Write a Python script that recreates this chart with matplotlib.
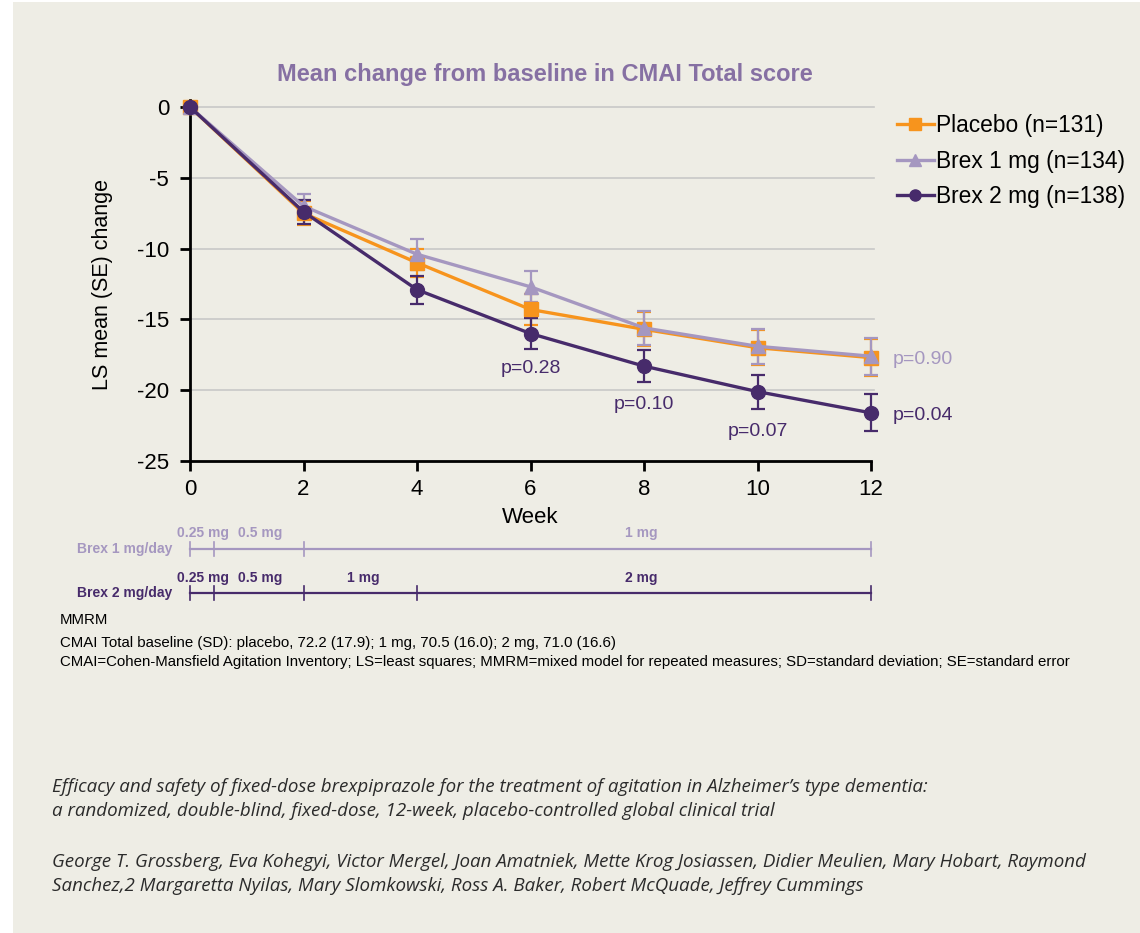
import matplotlib
matplotlib.use("Agg")
import matplotlib.pyplot as plt
from matplotlib.patches import Rectangle
from matplotlib.lines import Line2D

plt.rcParams['font.family'] = ['Liberation Sans', 'DejaVu Sans']

# ---------------- data ----------------
weeks = [0, 2, 4, 6, 8, 10, 12]
placebo = [0, -7.5, -11.0, -14.3, -15.7, -17.0, -17.7]
placebo_se = [0, 0.85, 1.0, 1.1, 1.2, 1.25, 1.3]
brex1 = [0, -7.0, -10.4, -12.7, -15.6, -16.9, -17.6]
brex1_se = [0, 0.85, 1.1, 1.1, 1.2, 1.25, 1.3]
brex2 = [0, -7.4, -12.9, -16.0, -18.3, -20.1, -21.6]
brex2_se = [0, 0.85, 1.0, 1.1, 1.15, 1.2, 1.3]

labels = ["Placebo (n=131)", "Brex 1 mg (n=134)", "Brex 2 mg (n=138)"]
pvals_weeks = [6, 8, 10]
pvals_text = ["p=0.28", "p=0.10", "p=0.07"]
pvals_y = [-18.5, -21.0, -22.9]
end_p_brex1 = "p=0.90"
end_p_brex2 = "p=0.04"

yticks = [0, -5, -10, -15, -20, -25]
xticks = [0, 2, 4, 6, 8, 10, 12]

# dose titration schedule (weeks)
brex1_breaks = [0, 0.43, 2, 12]
brex1_doses = ["0.25 mg", "0.5 mg", "1 mg"]
brex1_label_x = [0.23, 1.23, 7.95]
brex2_breaks = [0, 0.43, 2, 4, 12]
brex2_doses = ["0.25 mg", "0.5 mg", "1 mg", "2 mg"]
brex2_label_x = [0.23, 1.23, 3.05, 7.95]

# ---------------- style ----------------
BG = "#EEEDE5"
ORANGE = "#F7941D"
LPURP = "#A597C0"
DPURP = "#472B6B"
TITLE = "#8670A3"
GRID = "#C8C8C8"

W, H = 1140, 933
fig = plt.figure(figsize=(W / 100, H / 100), dpi=100, facecolor="white")
fig.patches.append(Rectangle((13 / W, 0), 1 - 13 / W, 1 - 2 / H, transform=fig.transFigure,
                             facecolor=BG, edgecolor="none", zorder=-10))

def fx(px):
    return px / W

def fy(py):
    return 1 - py / H

ax = fig.add_axes([fx(190), fy(461), fx(871) - fx(190), fy(107) - fy(461)])
ax.set_facecolor(BG)
ax.patch.set_alpha(0)

ax.set_xlim(0, 12)
ax.set_ylim(-25, 0)
for y in yticks[:-1]:
    ax.axhline(y, color=GRID, lw=1.2, zorder=0, xmax=1.005, clip_on=False)

series = [
    (placebo, placebo_se, ORANGE, "s", 9.5),
    (brex1, brex1_se, LPURP, "^", 10),
    (brex2, brex2_se, DPURP, "o", 10),
]
handles = []
for (vals, se, col, mk, ms), lab in zip(series, labels):
    eb = ax.errorbar(weeks, vals, yerr=se, color=col, marker=mk, ms=ms, lw=2.4,
                     elinewidth=1.6, capsize=5, capthick=1.6, clip_on=False, zorder=3)
    for art in eb.lines[2]:
        art.set_clip_on(False)
    for art in eb.lines[1]:
        art.set_clip_on(False)
    handles.append(Line2D([0], [0], color=col, marker=mk, ms=8, lw=2.4))

ax.spines['top'].set_visible(False)
ax.spines['right'].set_visible(False)
ax.spines['left'].set_linewidth(2)
ax.spines['bottom'].set_linewidth(2)
ax.spines['left'].set_bounds(-25, 0.5)
ax.set_yticks(yticks)
ax.set_yticklabels([str(t) for t in yticks])
ax.set_xticks(xticks)
ax.tick_params(axis='both', direction='out', length=7, width=2, labelsize=16, colors='black')
ax.tick_params(axis='y', pad=8)
ax.tick_params(axis='x', pad=6)
ax.set_xlabel("Week", fontsize=16, labelpad=5)
ax.set_ylabel("LS mean (SE) change", fontsize=15.5, labelpad=17)

for wx, txt, yy in zip(pvals_weeks, pvals_text, pvals_y):
    ax.text(wx, yy, txt, color=DPURP, fontsize=14, ha='center', va='center')
ax.text(12.38, brex1[-1] - 0.2, end_p_brex1, color=LPURP, fontsize=14, ha='left', va='center', clip_on=False)
ax.text(12.38, brex2[-1] - 0.2, end_p_brex2, color=DPURP, fontsize=14, ha='left', va='center', clip_on=False)

fig.text(fx(545), fy(75), "Mean change from baseline in CMAI Total score", color=TITLE,
         fontsize=17, fontweight='bold', ha='center', va='center')

leg = fig.legend(handles, labels, loc='upper left', bbox_to_anchor=(fx(888), fy(105)),
                 frameon=False, fontsize=16.4, handlelength=1.6, handletextpad=0.12,
                 labelspacing=0.55, borderaxespad=0)

# ---------------- dose timeline ----------------
tl = fig.add_axes([fx(190), fy(605), fx(871) - fx(190), fy(520) - fy(605)])
tl.set_xlim(0, 12)
tl.set_ylim(605, 520)
tl.axis('off')

NARROW = ['Liberation Sans Narrow', 'Liberation Sans', 'DejaVu Sans']

def timeline(breaks, doses, lx, yline, ylab, col, weight, name, yname):
    tl.plot([breaks[0], breaks[-1]], [yline, yline], color=col, lw=1.6, clip_on=False)
    for b in breaks:
        tl.plot([b, b], [yline - 7, yline + 7], color=col, lw=1.2, clip_on=False)
    for x, d in zip(lx, doses):
        tl.text(x, ylab, d, color=col, fontsize=10, fontweight=weight, ha='center',
                va='center', family=NARROW)
    fig.text(fx(172), fy(yname), name, color=col, fontsize=10, fontweight=weight,
             ha='right', va='center', family=NARROW)

timeline(brex1_breaks, brex1_doses, brex1_label_x, 549, 533, LPURP, 'bold', "Brex 1 mg/day", 549)
timeline(brex2_breaks, brex2_doses, brex2_label_x, 593, 578, DPURP, 'bold', "Brex 2 mg/day", 593)

# ---------------- footnotes ----------------
FN = 10.8
fig.text(fx(60), fy(620), "MMRM", fontsize=FN, va='center')
fig.text(fx(60), fy(643), "CMAI Total baseline (SD): placebo, 72.2 (17.9); 1 mg, 70.5 (16.0); 2 mg, 71.0 (16.6)",
         fontsize=FN, va='center')
fig.text(fx(60), fy(662), "CMAI=Cohen-Mansfield Agitation Inventory; LS=least squares; MMRM=mixed model for repeated measures; SD=standard deviation; SE=standard error",
         fontsize=FN, va='center')

CIT = ['Open Sans', 'DejaVu Sans']
cit_lines = [
    ("Efficacy and safety of fixed-dose brexpiprazole for the treatment of agitation in Alzheimer\u2019s type dementia:", 787),
    ("a randomized, double-blind, fixed-dose, 12-week, placebo-controlled global clinical trial", 811),
    ("George T. Grossberg, Eva Kohegyi, Victor Mergel, Joan Amatniek, Mette Krog Josiassen, Didier Meulien, Mary Hobart, Raymond", 862),
    ("Sanchez,2 Margaretta Nyilas, Mary Slomkowski, Ross A. Baker, Robert McQuade, Jeffrey Cummings", 886),
]
for txt, py in cit_lines:
    fig.text(fx(52), fy(py), txt, fontsize=13.5, style='italic', color='#2B2B2B',
             va='center', family=CIT)

fig.savefig("out.png", dpi=100, facecolor=fig.get_facecolor())
